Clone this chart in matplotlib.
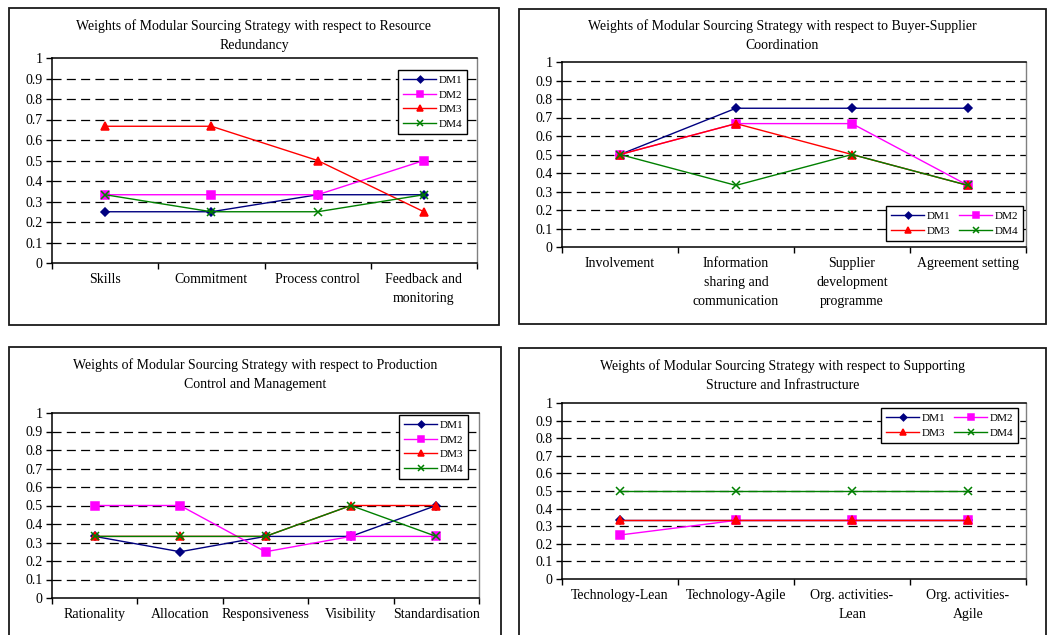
import matplotlib
matplotlib.use("Agg")
import matplotlib.pyplot as plt
from matplotlib.patches import Rectangle

plt.rcParams['font.family'] = ['Liberation Serif', 'DejaVu Serif']
plt.rcParams['lines.scale_dashes'] = False

W, H = 1047, 635

# ---- data -------------------------------------------------------------
series_names = ["DM1", "DM2", "DM3", "DM4"]
series_colors = ["#000080", "#FF00FF", "#FF0000", "#008000"]
series_markers = ["D", "s", "^", "x"]
series_msize = [4.2, 5.2, 6.0, 6.0]

rr_title = "Weights of Modular Sourcing Strategy with respect to Resource\nRedundancy"
rr_cats = ["Skills", "Commitment", "Process control", "Feedback and\nmonitoring"]
rr_dm1 = [0.25, 0.25, 0.333, 0.333]
rr_dm2 = [0.333, 0.333, 0.333, 0.5]
rr_dm3 = [0.667, 0.667, 0.5, 0.25]
rr_dm4 = [0.333, 0.25, 0.25, 0.333]

bs_title = "Weights of Modular Sourcing Strategy with respect to Buyer-Supplier\nCoordination"
bs_cats = ["Involvement", "Information\nsharing and\ncommunication",
           "Supplier\ndevelopment\nprogramme", "Agreement setting"]
bs_dm1 = [0.5, 0.75, 0.75, 0.75]
bs_dm2 = [0.5, 0.667, 0.667, 0.333]
bs_dm3 = [0.5, 0.667, 0.5, 0.333]
bs_dm4 = [0.5, 0.333, 0.5, 0.333]

pc_title = "Weights of Modular Sourcing Strategy with respect to Production\nControl and Management"
pc_cats = ["Rationality", "Allocation", "Responsiveness", "Visibility", "Standardisation"]
pc_dm1 = [0.333, 0.25, 0.333, 0.333, 0.5]
pc_dm2 = [0.5, 0.5, 0.25, 0.333, 0.333]
pc_dm3 = [0.333, 0.333, 0.333, 0.5, 0.5]
pc_dm4 = [0.333, 0.333, 0.333, 0.5, 0.333]

si_title = "Weights of Modular Sourcing Strategy with respect to Supporting\nStructure and Infrastructure"
si_cats = ["Technology-Lean", "Technology-Agile", "Org. activities-\nLean", "Org. activities-\nAgile"]
si_dm1 = [0.333, 0.333, 0.333, 0.333]
si_dm2 = [0.25, 0.333, 0.333, 0.333]
si_dm3 = [0.333, 0.333, 0.333, 0.333]
si_dm4 = [0.5, 0.5, 0.5, 0.5]

y_ticks = [0, 0.1, 0.2, 0.3, 0.4, 0.5, 0.6, 0.7, 0.8, 0.9, 1.0]
y_labels = ["0", "0.1", "0.2", "0.3", "0.4", "0.5", "0.6", "0.7", "0.8", "0.9", "1"]

# ---- layout (pixel boxes) ---------------------------------------------
fig = plt.figure(figsize=(W / 100, H / 100), dpi=100)
fig.patch.set_facecolor("white")


def fx(x):
    return x / W


def fy(y):
    return 1 - y / H


def frame(x0, y0, x1, y1):
    fig.patches.append(Rectangle((fx(x0), fy(y1)), fx(x1) - fx(x0), fy(y0) - fy(y1),
                                 transform=fig.transFigure, fill=False,
                                 edgecolor="#1a1a1a", linewidth=1.3, zorder=0))


def panel(box, frame_box, title, title_y, cats, values, leg_pos, leg_cols):
    l, t, r, b = box
    ax = fig.add_axes([fx(l), fy(b), fx(r) - fx(l), fy(t) - fy(b)])
    frame(*frame_box)
    n = len(cats)
    xs = [i + 0.5 for i in range(n)]
    ax.set_xlim(0, n)
    ax.set_ylim(0, 1)
    for yv in y_ticks[1:-1]:
        ax.axhline(yv, color="black", linewidth=0.9, dashes=(6.5, 3.8), zorder=1)
    handles = []
    for vals, name, col, mk, ms in zip(values, series_names, series_colors,
                                       series_markers, series_msize):
        h, = ax.plot(xs, vals, color=col, linewidth=1.0, marker=mk, markersize=ms,
                     markerfacecolor=col, markeredgecolor=col, markeredgewidth=1.1,
                     label=name, zorder=3, clip_on=False)
        handles.append(h)
    ax.set_yticks(y_ticks)
    ax.set_yticklabels(y_labels, fontsize=10)
    ax.set_xticks(range(n + 1))
    ax.set_xticklabels([])
    ax.set_xticks(xs, minor=True)
    ax.set_xticklabels(cats, minor=True, fontsize=10, linespacing=1.6,
                       va="top")
    ax.tick_params(axis="x", which="minor", length=0, pad=7)
    ax.tick_params(axis="x", which="major", direction="out", length=4, width=1)
    ax.tick_params(axis="y", direction="out", length=4, width=1, pad=3)
    for s in ["left", "bottom", "top"]:
        ax.spines[s].set_color("black")
        ax.spines[s].set_linewidth(1.1)
    ax.spines["right"].set_color("#808080")
    ax.spines["right"].set_linewidth(1.0)
    cx = (frame_box[0] + frame_box[2]) / 2
    fig.text(fx(cx), fy(title_y), title, ha="center", va="top", fontsize=10,
             linespacing=1.6)
    if leg_cols == 2:
        # row-wise order: DM1 DM2 / DM3 DM4
        handles = [handles[0], handles[2], handles[1], handles[3]]
    leg = ax.legend(handles=handles, loc="upper left",
                    bbox_to_anchor=(fx(leg_pos[0]), fy(leg_pos[1])),
                    bbox_transform=fig.transFigure, ncol=leg_cols, fontsize=8,
                    frameon=True, fancybox=False, framealpha=1, edgecolor="black",
                    handlelength=3.0, handletextpad=0.2, borderpad=0.45,
                    labelspacing=0.45, columnspacing=0.8, numpoints=1,
                    borderaxespad=0, markerscale=0.8)
    leg.get_frame().set_linewidth(1.0)
    leg.set_zorder(5)
    return ax


panel((52, 58, 477, 263), (9, 8, 499, 325), rr_title, 19,
      rr_cats, [rr_dm1, rr_dm2, rr_dm3, rr_dm4], (398, 70), 1)
panel((562, 62, 1026, 247), (519, 9, 1046, 324), bs_title, 19,
      bs_cats, [bs_dm1, bs_dm2, bs_dm3, bs_dm4], (886, 206), 2)
panel((52, 413, 479, 598), (9, 347, 501, 660), pc_title, 358,
      pc_cats, [pc_dm1, pc_dm2, pc_dm3, pc_dm4], (399, 415), 1)
panel((562, 403, 1026, 579), (519, 348, 1046, 660), si_title, 359,
      si_cats, [si_dm1, si_dm2, si_dm3, si_dm4], (881, 408), 2)

fig.savefig("out.png", dpi=100, facecolor="white")
